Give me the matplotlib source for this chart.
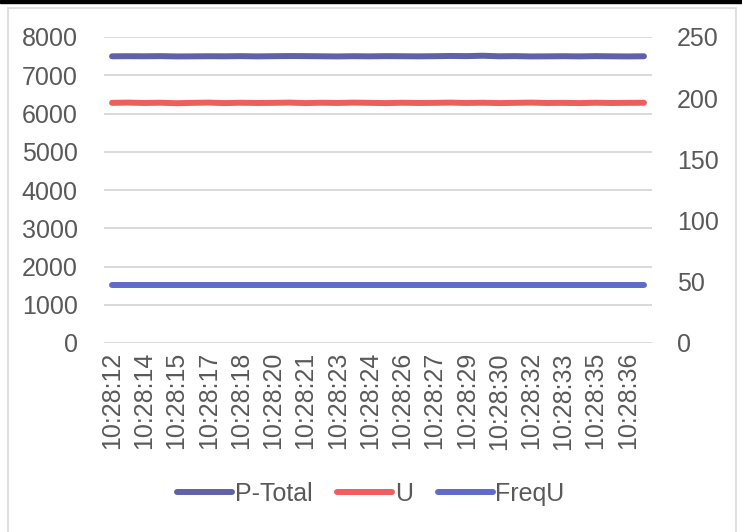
import numpy as np
import matplotlib.pyplot as plt
from matplotlib.patches import Rectangle

# data
times = ["10:28:12", "10:28:13", "10:28:14", "10:28:14", "10:28:15", "10:28:16",
         "10:28:17", "10:28:17", "10:28:18", "10:28:19", "10:28:20", "10:28:20",
         "10:28:21", "10:28:22", "10:28:23", "10:28:23", "10:28:24", "10:28:25",
         "10:28:26", "10:28:26", "10:28:27", "10:28:28", "10:28:29", "10:28:29",
         "10:28:30", "10:28:31", "10:28:32", "10:28:32", "10:28:33", "10:28:34",
         "10:28:35", "10:28:35", "10:28:36", "10:28:37"]
p_total = [7495, 7498, 7496, 7500, 7492, 7494, 7497, 7495, 7500, 7493, 7498, 7502,
           7500, 7496, 7492, 7498, 7494, 7500, 7497, 7494, 7498, 7504, 7500, 7510,
           7496, 7500, 7492, 7494, 7498, 7493, 7500, 7495, 7492, 7496]
u_volt = [196.2, 196.4, 196.1, 196.3, 195.9, 196.2, 196.4, 196.0, 196.3, 196.1, 196.2, 196.4,
          196.0, 196.3, 196.1, 196.4, 196.2, 196.0, 196.3, 196.1, 196.2, 196.4, 196.1, 196.3,
          196.0, 196.2, 196.4, 196.1, 196.2, 196.0, 196.3, 196.1, 196.2, 196.3]
freq_u = [47.4] * 34

c_ptot = "#5F62A8"
c_u = "#EF5D5D"
c_freq = "#5E6BC9"
txt = "#595959"

plt.rcParams['font.family'] = ['Liberation Sans', 'DejaVu Sans']

fig = plt.figure(figsize=(7.42, 5.32), dpi=100)
W, H = 742, 532
ax = fig.add_axes([104 / W, 1 - 343 / H, (652 - 104) / W, (343 - 37) / H])
ax2 = ax.twinx()

x = np.arange(len(times))
l1, = ax.plot(x, p_total, color=c_ptot, lw=4.3, solid_capstyle='round', zorder=3)
l2, = ax2.plot(x, u_volt, color=c_u, lw=4.3, solid_capstyle='round', zorder=3)
l3, = ax2.plot(x, freq_u, color=c_freq, lw=4.3, solid_capstyle='round', zorder=3)

ax.set_xlim(-0.5, len(times) - 0.5)
ax.set_ylim(0, 8000)
ax2.set_ylim(0, 250)
ax.set_yticks(np.arange(0, 8001, 1000))
ax2.set_yticks(np.arange(0, 251, 50))
ax.grid(axis='y', color='#D9D9D9', lw=1.4)
ax.set_axisbelow(True)

ax.set_xticks(x[::2])
ax.set_xticklabels(times[::2], rotation=90, va='top', ha='center')

for a in (ax, ax2):
    for s in a.spines.values():
        s.set_visible(False)
    a.tick_params(length=0, labelsize=18, colors=txt)
ax.tick_params(axis='y', pad=19)
ax.tick_params(axis='x', pad=6.5)
ax2.tick_params(axis='y', pad=18)
ax2.patch.set_visible(False)

fig.legend([l1, l2, l3], ["P-Total", "U", "FreqU"], loc='center',
           bbox_to_anchor=(0.5, 1 - 494 / H), ncol=3, frameon=False,
           fontsize=18, labelcolor=txt, handlelength=2.2, handletextpad=0.1,
           columnspacing=1.0)

# chart border and top edge
fig.patches.append(Rectangle((8 / W, -0.01), (736 - 8) / W, 1 - 8 / H + 0.01,
                             transform=fig.transFigure, fill=False,
                             edgecolor='#D9D9D9', lw=1.2))
fig.patches.append(Rectangle((0, 1 - 3 / H), 1, 3 / H, transform=fig.transFigure,
                             color='black'))

fig.savefig("out.png", dpi=100)
